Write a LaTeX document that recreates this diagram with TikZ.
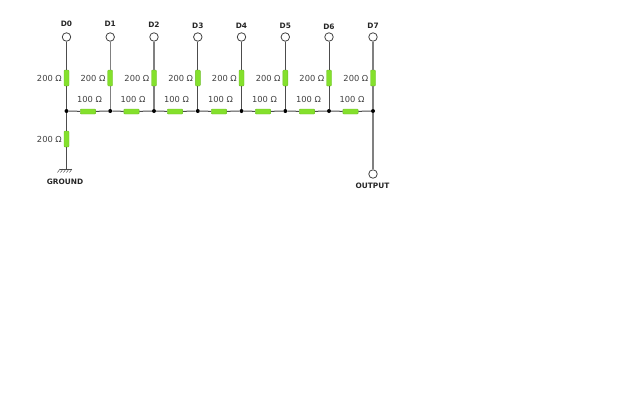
\documentclass[tikz,border=0pt]{standalone}
\usepackage{fontspec}
\setmainfont{DejaVu Sans}
\definecolor{resfill}{RGB}{132,224,44}
\definecolor{resline}{RGB}{110,190,40}
\tikzset{
	wire/.style={black!70,line width=1pt},
	palewire/.style={black!50,line width=1.2pt},
	widewire/.style={black!50,line width=1.7pt},
	pin/.style={draw=black!75,fill=white,circle,inner sep=0pt,minimum size=8.5pt,line width=0.8pt},
	dot/.style={fill=black,circle,inner sep=0pt,minimum size=4pt},
	vres/.style={draw=resline,fill=resfill,rounded corners=1pt,inner sep=0pt,minimum width=5pt,minimum height=16pt,line width=0.4pt},
	hres/.style={vres,minimum width=15.5pt,minimum height=5pt},
	val/.style={font=\fontsize{8.3}{9}\selectfont,text=black!75,inner sep=0pt},
	tag/.style={font=\bfseries\fontsize{7.4}{8}\selectfont,text=black!85,inner sep=0pt}
}
\begin{document}
\begin{tikzpicture}[x=1pt,y=-1pt]
\useasboundingbox (0,0) rectangle (640,400);
% columns
\foreach \n/\x/\l/\w in {0/66.5/24/wire,1/110.2/24/palewire,2/154/24.5/palewire,3/197.8/26/wire,4/241.5/26/wire,5/285.3/26/wire,6/329/27/wire,7/373/26/widewire} {
	\node[pin] (pin\n) at (\x,37) {};
	\node[tag] (lab\n) at (\x,\l) {D\n};
	\node[vres] (rv\n) at (\x,78) {};
	\node[dot] (j\n) at (\x,111) {};
	\node[val,anchor=east] (val\n) at (\x-4.5,78.5) {200 Ω};
	\draw[\w] (pin\n) -- (rv\n);
	\draw[\w] (rv\n) -- (j\n);
}
% ladder
\foreach \a/\b/\x in {0/1/88,1/2/131.5,2/3/175,3/4/219,4/5/263,5/6/307,6/7/350.5} {
	\node[hres] (rh\a) at (\x,111.5) {};
	\node[val] (top\a) at (\x+1.5,99) {100 Ω};
	\draw[wire] (j\a) -- (rh\a);
	\draw[wire] (rh\a) -- (j\b);
}
% ground
\node[vres] (rg) at (66.5,139) {};
\node[val,anchor=east] (valg) at (62,139.5) {200 Ω};
\coordinate (gnd) at (66.5,169);
\draw[wire] (j0) -- (rg);
\draw[wire] (rg) -- (gnd);
\draw[black!70,line width=0.6pt] (60,169) -- (72,169);
\foreach \x in {60,63,66,69,72} {
	\draw[black!70,line width=0.5pt] (\x,169) -- (\x-2.5,172.5);
}
\node[tag] (labg) at (65,181.5) {GROUND};
% output
\node[pin] (out) at (373,174) {};
\node[tag] (labo) at (372.5,185.5) {OUTPUT};
\draw[widewire] (j7) -- (out);
\end{tikzpicture}
\end{document}
